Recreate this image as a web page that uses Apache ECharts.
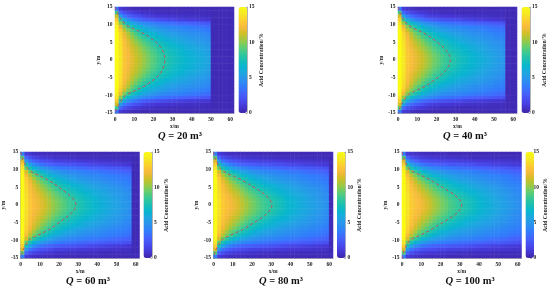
<!DOCTYPE html>
<html><head><meta charset="utf-8">
<style>html,body{margin:0;padding:0;background:#fff}#c{width:550px;height:289px}</style>
<script src="https://cdn.jsdelivr.net/npm/echarts@6/dist/echarts.min.js"></script>
</head><body><div id="c"></div>
<script>
const xCols=[1,3,5,7,9,11,13,15,17,19,21,23,25,27,29,31,33,35,37,39,41,43,45,47,49,51,53,55,57,59,61];
const yRows=[0.5,1.5,2.5,3.5,4.5,5.5,6.5,7.5,8.5,9.5,10.5,11.5,12.5,13.5,14.5];
const xTicks={min:0,max:62,interval:10};
const yTicks={min:-15,max:15,interval:5};
const colorTicks={min:0,max:15,interval:5};
const parula=['#3e26a8','#4537d5','#484df0','#4563fd','#327cfc','#2b91ef','#20a5e2','#08b5d0','#19bfb5','#37c897','#64cd6f','#9dc943','#d1bf27','#f8ba3d','#fccf30','#f5e924','#f9fb15'];
const q20=[
[15,14,12.7,12.2,11.7,11.2,10.8,10.3,9.8,9.3,8.9,8.5,8.1,7.8,7.5,7.2,7,6.8,6.6,6.4,6.3,6.1,6,5.8,5.6,.3,.3,.3,.3,.3,.3],
[15,14,12.7,12.2,11.6,11.1,10.7,10.2,9.7,9.2,8.8,8.4,8,7.7,7.4,7.1,6.9,6.7,6.5,6.3,6.2,6,5.9,5.7,5.5,.3,.3,.3,.3,.3,.3],
[15,13.9,12.6,12.1,11.5,11,10.5,10,9.5,9,8.6,8.2,7.8,7.5,7.2,7,6.8,6.6,6.4,6.2,6.1,5.9,5.8,5.6,5.4,.3,.3,.3,.3,.3,.3],
[15,13.9,12.6,11.9,11.3,10.8,10.3,9.7,9.2,8.7,8.3,7.9,7.6,7.3,7,6.8,6.6,6.4,6.2,6,5.9,5.7,5.6,5.4,5.2,.3,.3,.3,.3,.3,.3],
[15,13.8,12.5,11.7,11,10.4,9.9,9.3,8.8,8.3,7.9,7.5,7.2,6.9,6.7,6.5,6.3,6.1,5.9,5.7,5.6,5.4,5.3,5.2,5,.3,.3,.3,.3,.3,.3],
[15,13.7,12.4,11.5,10.7,10,9.4,8.8,8.3,7.8,7.4,7.1,6.8,6.5,6.3,6.1,5.9,5.7,5.6,5.4,5.3,5.1,5,4.9,4.7,.3,.3,.3,.3,.3,.3],
[15,13.5,12.1,11.1,10.2,9.5,8.8,8.2,7.7,7.2,6.9,6.6,6.3,6,5.8,5.6,5.5,5.3,5.2,5,4.9,4.8,4.7,4.6,4.4,.3,.3,.3,.3,.3,.3],
[15,13.3,11.7,10.6,9.6,8.8,8.1,7.5,7,6.6,6.3,6,5.7,5.5,5.3,5.2,5,4.9,4.8,4.7,4.6,4.5,4.4,4.3,4.1,.3,.3,.3,.3,.3,.3],
[14.8,12.8,11,9.8,8.8,8,7.3,6.7,6.2,5.9,5.6,5.4,5.2,5,4.8,4.7,4.6,4.5,4.4,4.3,4.2,4.1,4,3.9,3.7,.3,.3,.3,.3,.3,.3],
[14.5,11.8,9.7,8.4,7.5,6.8,6.2,5.7,5.3,5,4.8,4.6,4.4,4.3,4.2,4.1,4,3.9,3.8,3.7,3.6,3.5,3.4,3.3,3.2,.3,.3,.3,.3,.3,.3],
[13.8,10,7.9,6.7,5.9,5.3,4.8,4.4,4.1,3.9,3.7,3.5,3.4,3.3,3.2,3.1,3,2.9,2.8,2.7,2.6,2.5,2.4,2.3,2.2,.3,.3,.3,.3,.3,.3],
[12.8,8,5.8,4.6,3.9,3.4,3,2.6,2.4,2.2,2,1.9,1.8,1.7,1.6,1.5,1.4,1.3,1.2,1.1,1.1,1,1,.9,.9,.3,.3,.3,.3,.3,.3],
[11,5.2,3.6,2.8,2.3,2,1.8,1.4,1.2,1.1,1,.9,.9,.8,.8,.7,.7,.7,.6,.6,.6,.6,.5,.5,.5,.3,.3,.3,.3,.3,.3],
[8.5,2.8,1.9,1.5,1.2,1,.9,.7,.6,.6,.5,.5,.5,.5,.4,.4,.4,.4,.4,.4,.4,.4,.4,.4,.4,.3,.3,.3,.3,.3,.3],
[3.5,1,.7,.5,.4,.4,.4,.3,.3,.3,.3,.3,.3,.3,.3,.3,.3,.3,.3,.3,.3,.3,.3,.3,.3,.3,.3,.3,.3,.3,.3]];
const q40=[
[15,14.1,12.9,12.4,11.9,11.5,11.1,10.6,10.1,9.6,9.2,8.8,8.4,8.1,7.8,7.5,7.2,7,6.8,6.6,6.4,6.2,6,5.8,5.6,5.4,5.2,5,.3,.3,.3],
[15,14.1,12.9,12.4,11.8,11.4,11,10.5,10,9.5,9.1,8.7,8.3,8,7.7,7.4,7.1,6.9,6.7,6.5,6.3,6.1,5.9,5.7,5.5,5.3,5.1,4.9,.3,.3,.3],
[15,14,12.8,12.2,11.7,11.2,10.8,10.2,9.7,9.2,8.8,8.4,8,7.7,7.4,7.1,6.9,6.7,6.5,6.3,6.1,5.9,5.7,5.5,5.4,5.2,5,4.8,.3,.3,.3],
[15,14,12.7,12,11.4,10.9,10.4,9.9,9.4,8.9,8.5,8.1,7.7,7.4,7.1,6.9,6.7,6.5,6.3,6.1,5.9,5.7,5.6,5.4,5.2,5,4.9,4.7,.3,.3,.3],
[15,13.9,12.6,11.8,11.1,10.6,10.1,9.5,9,8.5,8.1,7.7,7.4,7.1,6.8,6.6,6.4,6.2,6,5.8,5.7,5.5,5.4,5.2,5,4.9,4.7,4.5,.3,.3,.3],
[15,13.8,12.5,11.6,10.8,10.2,9.6,9,8.5,8,7.6,7.3,7,6.7,6.5,6.2,6,5.9,5.7,5.5,5.4,5.2,5.1,4.9,4.8,4.6,4.5,4.3,.3,.3,.3],
[15,13.6,12.2,11.2,10.3,9.7,9,8.4,7.9,7.4,7,6.7,6.4,6.2,6,5.8,5.6,5.4,5.3,5.1,5,4.9,4.7,4.6,4.5,4.3,4.2,4.1,.3,.3,.3],
[15,13.4,11.8,10.7,9.7,9,8.3,7.7,7.2,6.8,6.4,6.1,5.9,5.6,5.4,5.3,5.1,5,4.9,4.7,4.6,4.5,4.4,4.3,4.2,4,3.9,3.8,.3,.3,.3],
[14.9,12.9,11.1,9.9,9,8.2,7.5,6.9,6.4,6,5.7,5.5,5.3,5.1,5,4.8,4.7,4.6,4.5,4.4,4.3,4.2,4.1,3.9,3.8,3.7,3.6,3.5,.3,.3,.3],
[14.6,12,9.9,8.6,7.7,7,6.4,5.9,5.5,5.2,4.9,4.7,4.5,4.4,4.3,4.2,4.1,4,3.9,3.8,3.7,3.6,3.5,3.4,3.3,3.2,3.1,3,.3,.3,.3],
[14,10.2,8.1,6.9,6.1,5.5,5,4.6,4.3,4,3.8,3.6,3.5,3.4,3.3,3.2,3.1,3,2.9,2.8,2.7,2.6,2.5,2.5,2.4,2.3,2.2,2.1,.3,.3,.3],
[13,8.2,6,4.8,4.1,3.6,3.2,2.8,2.6,2.4,2.2,2.1,2,1.9,1.8,1.7,1.6,1.5,1.4,1.3,1.2,1.2,1.1,1,1,.9,.9,.8,.3,.3,.3],
[11.2,5.5,3.8,3,2.5,2.2,1.9,1.5,1.3,1.2,1.1,1,1,.9,.9,.8,.8,.7,.7,.7,.6,.6,.6,.6,.5,.5,.5,.5,.3,.3,.3],
[8.8,3,2,1.6,1.3,1.1,1,.8,.7,.6,.6,.5,.5,.5,.5,.4,.4,.4,.4,.4,.4,.4,.4,.4,.4,.4,.4,.4,.3,.3,.3],
[3.8,1.1,.8,.6,.5,.4,.4,.4,.3,.3,.3,.3,.3,.3,.3,.3,.3,.3,.3,.3,.3,.3,.3,.3,.3,.3,.3,.3,.3,.3,.3]];
const q60=[
[15,13.7,12.8,12.4,12,11.6,11.2,10.7,10.2,9.8,9.4,9,8.6,8.3,8,7.7,7.4,7.1,6.9,6.6,6.4,6.2,6,5.8,5.6,5.4,5.2,5,4.8,.3,.3],
[15,13.7,12.8,12.3,11.9,11.5,11.1,10.6,10.1,9.7,9.3,8.9,8.5,8.2,7.9,7.6,7.3,7,6.8,6.5,6.3,6.1,5.9,5.7,5.5,5.3,5.1,4.9,4.7,.3,.3],
[15,13.6,12.7,12.2,11.7,11.3,10.8,10.3,9.8,9.4,9,8.6,8.2,7.9,7.6,7.3,7,6.8,6.6,6.3,6.1,5.9,5.8,5.6,5.4,5.2,5,4.8,4.6,.3,.3],
[15,13.6,12.6,12,11.5,11,10.5,10,9.5,9,8.6,8.2,7.8,7.5,7.2,7,6.7,6.5,6.3,6.1,5.9,5.7,5.6,5.4,5.2,5,4.9,4.7,4.5,.3,.3],
[15,13.5,12.5,11.8,11.1,10.6,10.1,9.5,9,8.5,8.1,7.7,7.4,7.1,6.8,6.6,6.3,6.1,6,5.8,5.6,5.5,5.3,5.1,5,4.8,4.7,4.5,4.3,.3,.3],
[15,13.4,12.3,11.5,10.8,10.1,9.6,9,8.5,8,7.6,7.2,6.9,6.6,6.4,6.2,6,5.8,5.6,5.4,5.3,5.1,5,4.8,4.7,4.5,4.4,4.2,4.1,.3,.3],
[15,13.2,12,11.1,10.3,9.6,9,8.4,7.9,7.4,7,6.7,6.4,6.1,5.9,5.7,5.5,5.3,5.2,5,4.9,4.8,4.6,4.5,4.4,4.2,4.1,4,3.8,.3,.3],
[15,13,11.5,10.5,9.5,8.8,8.2,7.6,7.1,6.7,6.3,6,5.8,5.5,5.3,5.1,5,4.8,4.7,4.6,4.5,4.3,4.2,4.1,4,3.9,3.8,3.7,3.5,.3,.3],
[14.9,12.3,10.7,9.6,8.7,7.9,7.3,6.7,6.2,5.9,5.6,5.3,5.1,4.9,4.8,4.6,4.5,4.4,4.3,4.2,4.1,4,3.9,3.8,3.7,3.6,3.5,3.4,3.2,.3,.3],
[14.6,11.3,9.4,8.2,7.3,6.6,6,5.6,5.2,4.9,4.7,4.5,4.3,4.2,4.1,4,3.9,3.8,3.7,3.6,3.5,3.4,3.3,3.2,3.1,3,2.9,2.8,2.7,.3,.3],
[14,9.4,7.5,6.4,5.7,5.1,4.7,4.3,4.1,3.8,3.6,3.5,3.4,3.3,3.2,3.1,3,2.9,2.8,2.8,2.7,2.6,2.5,2.4,2.4,2.3,2.2,2.1,2,.3,.3],
[13,7.4,5.5,4.5,3.9,3.4,3.1,2.8,2.6,2.5,2.4,2.3,2.2,2.1,2.1,2,1.9,1.8,1.7,1.6,1.5,1.5,1.4,1.3,1.2,1.1,1.1,1,.9,.3,.3],
[11.5,5,3.5,2.8,2.4,2.1,1.9,1.7,1.5,1.4,1.3,1.3,1.2,1.2,1.1,1.1,1,1,.9,.9,.8,.8,.8,.7,.7,.7,.6,.6,.6,.3,.3],
[9,2.8,1.9,1.5,1.3,1.1,1,.9,.8,.7,.7,.7,.6,.6,.6,.5,.5,.5,.5,.5,.4,.4,.4,.4,.4,.4,.4,.4,.4,.3,.3],
[4,1.1,.8,.6,.5,.5,.4,.4,.4,.4,.4,.3,.3,.3,.3,.3,.3,.3,.3,.3,.3,.3,.3,.3,.3,.3,.3,.3,.3,.3,.3]];
const q80=[
[15,13.8,12.9,12.5,12.2,11.8,11.4,10.9,10.4,10,9.6,9.2,8.8,8.5,8.2,7.9,7.6,7.3,7,6.7,6.5,6.3,6.1,5.9,5.7,5.5,5.3,5.1,4.9,4.7,.3],
[15,13.8,12.9,12.4,12.1,11.7,11.3,10.8,10.3,9.9,9.5,9.1,8.7,8.4,8.1,7.8,7.5,7.2,6.9,6.6,6.4,6.2,6,5.8,5.6,5.4,5.2,5,4.8,4.6,.3],
[15,13.7,12.8,12.3,11.9,11.4,11,10.5,10,9.6,9.2,8.8,8.4,8.1,7.8,7.5,7.2,6.9,6.7,6.4,6.2,6,5.9,5.7,5.5,5.3,5.1,4.9,4.7,4.5,.3],
[15,13.6,12.7,12.1,11.6,11.1,10.7,10.1,9.6,9.2,8.8,8.4,8,7.7,7.4,7.1,6.8,6.6,6.4,6.2,6,5.8,5.7,5.5,5.3,5.1,5,4.8,4.6,4.4,.3],
[15,13.5,12.5,11.8,11.2,10.7,10.2,9.7,9.2,8.7,8.3,7.9,7.5,7.2,6.9,6.7,6.4,6.2,6.1,5.9,5.7,5.6,5.4,5.2,5.1,4.9,4.8,4.6,4.4,4.2,.3],
[15,13.4,12.3,11.5,10.9,10.2,9.7,9.1,8.6,8.1,7.7,7.3,7,6.7,6.5,6.3,6.1,5.9,5.7,5.5,5.4,5.2,5.1,4.9,4.8,4.6,4.5,4.3,4.2,4,.3],
[15,13.2,12,11.1,10.3,9.7,9.1,8.5,8,7.5,7.1,6.8,6.5,6.2,6,5.8,5.6,5.4,5.3,5.1,5,4.9,4.7,4.6,4.5,4.3,4.2,4.1,3.9,3.8,.3],
[15,13,11.5,10.5,9.5,8.9,8.2,7.7,7.2,6.8,6.4,6.1,5.9,5.6,5.4,5.2,5.1,4.9,4.8,4.7,4.6,4.4,4.3,4.2,4.1,4,3.9,3.8,3.6,3.5,.3],
[14.9,12.3,10.7,9.6,8.7,8,7.4,6.8,6.3,6,5.7,5.4,5.2,5,4.9,4.7,4.6,4.5,4.4,4.3,4.2,4.1,4,3.9,3.8,3.7,3.6,3.5,3.3,3.2,.3],
[14.6,11.3,9.4,8.2,7.3,6.6,6.1,5.6,5.3,5,4.8,4.6,4.4,4.3,4.2,4.1,4,3.9,3.8,3.7,3.6,3.5,3.4,3.3,3.2,3.1,3,2.9,2.8,2.6,.3],
[14,9.4,7.5,6.4,5.7,5.1,4.7,4.3,4.1,3.9,3.7,3.6,3.5,3.4,3.3,3.2,3.1,3,2.9,2.9,2.8,2.7,2.6,2.5,2.5,2.4,2.3,2.2,2.1,2,.3],
[13,7.4,5.5,4.5,3.9,3.4,3.1,2.9,2.7,2.6,2.5,2.4,2.3,2.2,2.2,2.1,2,1.9,1.8,1.7,1.6,1.6,1.5,1.4,1.3,1.3,1.2,1.1,1,1,.3],
[11.5,5,3.5,2.8,2.4,2.1,1.9,1.7,1.6,1.5,1.4,1.4,1.3,1.3,1.2,1.2,1.1,1.1,1,1,.9,.9,.9,.8,.8,.8,.7,.7,.7,.6,.3],
[9,2.8,1.9,1.5,1.3,1.1,1,.9,.8,.8,.7,.7,.7,.6,.6,.6,.5,.5,.5,.5,.5,.5,.4,.4,.4,.4,.4,.4,.4,.4,.3],
[4,1.1,.8,.6,.5,.5,.4,.4,.4,.4,.4,.4,.3,.3,.3,.3,.3,.3,.3,.3,.3,.3,.3,.3,.3,.3,.3,.3,.3,.3,.3]];
const q100=[
[15,13.9,13,12.6,12.3,11.9,11.5,11,10.5,10.1,9.7,9.3,8.9,8.6,8.3,8,7.7,7.4,7.1,6.9,6.6,6.4,6.2,6,5.8,5.6,5.4,5.2,5,4.8,4.6],
[15,13.9,13,12.5,12.2,11.8,11.4,10.9,10.4,10,9.6,9.2,8.8,8.5,8.2,7.9,7.6,7.3,7,6.8,6.5,6.3,6.1,5.9,5.7,5.5,5.3,5.1,4.9,4.7,4.5],
[15,13.8,12.9,12.4,12,11.5,11.1,10.6,10.1,9.7,9.3,8.9,8.5,8.2,7.9,7.6,7.3,7,6.8,6.5,6.3,6.1,6,5.8,5.6,5.4,5.2,5,4.8,4.6,4.4],
[15,13.7,12.8,12.2,11.7,11.2,10.8,10.2,9.7,9.3,8.9,8.5,8.1,7.8,7.5,7.2,6.9,6.7,6.5,6.3,6.1,5.9,5.8,5.6,5.4,5.2,5.1,4.9,4.7,4.5,4.3],
[15,13.6,12.6,11.9,11.3,10.8,10.3,9.8,9.3,8.8,8.4,8,7.6,7.3,7,6.8,6.5,6.3,6.2,6,5.8,5.7,5.5,5.3,5.2,5,4.9,4.7,4.5,4.3,4.2],
[15,13.5,12.4,11.6,11,10.3,9.8,9.2,8.7,8.2,7.8,7.4,7.1,6.8,6.6,6.4,6.2,6,5.8,5.6,5.5,5.3,5.2,5,4.9,4.7,4.6,4.4,4.3,4.1,4],
[15,13.3,12.1,11.2,10.4,9.8,9.2,8.6,8.1,7.6,7.2,6.9,6.6,6.3,6.1,5.9,5.7,5.5,5.4,5.2,5.1,5,4.8,4.7,4.6,4.4,4.3,4.2,4,3.9,3.8],
[15,13.1,11.6,10.6,9.6,9,8.3,7.8,7.3,6.9,6.5,6.2,6,5.7,5.5,5.3,5.2,5,4.9,4.8,4.7,4.5,4.4,4.3,4.2,4.1,4,3.9,3.7,3.6,3.5],
[14.9,12.4,10.8,9.7,8.8,8.1,7.5,6.9,6.4,6.1,5.8,5.5,5.3,5.1,5,4.8,4.7,4.6,4.5,4.4,4.3,4.2,4.1,4,3.9,3.8,3.7,3.6,3.4,3.3,3.2],
[14.6,11.4,9.5,8.3,7.4,6.7,6.2,5.7,5.4,5.1,4.9,4.7,4.5,4.4,4.3,4.2,4.1,4,3.9,3.8,3.7,3.6,3.5,3.4,3.3,3.2,3.1,3,2.9,2.7,2.6],
[14,9.5,7.6,6.5,5.8,5.2,4.8,4.4,4.2,4,3.8,3.7,3.6,3.5,3.4,3.3,3.2,3.1,3,3,2.9,2.8,2.7,2.6,2.6,2.5,2.4,2.3,2.2,2.1,2],
[13,7.5,5.6,4.6,4,3.5,3.2,3,2.8,2.7,2.6,2.5,2.4,2.3,2.3,2.2,2.1,2,1.9,1.8,1.7,1.7,1.6,1.5,1.4,1.4,1.3,1.2,1.1,1.1,1],
[11.5,5,3.5,2.8,2.4,2.1,1.9,1.8,1.7,1.6,1.5,1.5,1.4,1.4,1.3,1.3,1.2,1.2,1.1,1.1,1,1,1,.9,.9,.9,.8,.8,.8,.7,.7],
[9,2.8,1.9,1.5,1.3,1.1,1,.9,.9,.8,.8,.7,.7,.7,.6,.6,.6,.5,.5,.5,.5,.5,.5,.4,.4,.4,.4,.4,.4,.4,.4],
[4,1.1,.8,.6,.5,.5,.4,.4,.4,.4,.4,.4,.3,.3,.3,.3,.3,.3,.3,.3,.3,.3,.3,.3,.3,.3,.3,.3,.3,.3,.3]];
const curveY=[15,14,13,12,11,10,9,8,7,6,5,4,3,2,1,0];
const curve20=[0,.7,1.5,2.6,4,5.5,9,13,16.5,19,21.5,23.2,24.5,25.3,25.8,26];
const curve40=[0,.7,1.3,2.4,3.6,5,8,12,15.5,18,20.6,22.8,24.8,26,27,27.2];
const curve60=[0,.5,1,1.9,3,4,7,11,14.5,17.5,20,22.5,25,27,28.3,28.8];
const curve80=[0,.5,1,1.8,2.8,4,7,11,15,18,21,24,26.5,28.5,29.8,30.3];
const curve100=[0,.5,1,1.8,2.8,4,7.5,11.5,15,18,21,24,27,29,30.5,31];
const titles=['20','40','60','80','100'];
const tables=[q20,q40,q60,q80,q100];
const curves=[curve20,curve40,curve60,curve80,curve100];
const boxes=[
 {l:115,t:7,w:119,h:106,cb:238.5,tx:180,ty:136.5},
 {l:398,t:7,w:119,h:106,cb:521.5,tx:465,ty:136.5},
 {l:20,t:152,w:119.5,h:106,cb:143.5,tx:88,ty:281.5},
 {l:213.5,t:152,w:119.5,h:106,cb:337,tx:281,ty:281.5},
 {l:402,t:152,w:119.5,h:106,cb:525.5,tx:470,ty:281.5}];
const font='Liberation Serif';
const lab={fontFamily:font,fontWeight:'bold',fontSize:5.5,color:'#222'};
const line={lineStyle:{color:'#666',width:.5}};
const allY=[...yRows].reverse().map(v=>-v).concat(yRows);
const opt={animation:false,backgroundColor:'#fff',title:[],grid:[],xAxis:[],yAxis:[],series:[],visualMap:[]};
boxes.forEach((b,i)=>{
  const g=opt.grid.length;
  opt.grid.push({left:b.l,top:b.t,width:b.w,height:b.h,containLabel:false});
  opt.grid.push({left:b.cb,top:b.t,width:8.5,height:b.h,containLabel:false});
  const xc=opt.xAxis.length, yc=opt.yAxis.length;
  opt.xAxis.push({type:'category',gridIndex:g,data:xCols,show:false,position:'top'});
  opt.yAxis.push({type:'category',gridIndex:g,data:allY,show:false,position:'right'});
  opt.xAxis.push({type:'value',gridIndex:g,position:'bottom',...xTicks,name:'x/m',nameLocation:'middle',nameGap:10,nameTextStyle:lab,
    axisLine:{show:true,onZero:false,...line},axisTick:{show:true,inside:true,length:1.5,...line},axisLabel:{...lab,margin:3.5,showMinLabel:true,showMaxLabel:false},splitLine:{show:false}});
  opt.yAxis.push({type:'value',gridIndex:g,position:'left',...yTicks,name:'y/m',nameLocation:'middle',nameGap:11,nameRotate:90,nameTextStyle:lab,
    axisLine:{show:true,onZero:false,...line},axisTick:{show:true,inside:true,length:1.5,...line},axisLabel:{...lab,margin:2.5},splitLine:{show:false}});
  opt.xAxis.push({type:'value',gridIndex:g+1,min:0,max:1,show:false});
  opt.yAxis.push({type:'value',gridIndex:g+1,...colorTicks,position:'right',name:'Acid Concentration/%',nameLocation:'middle',nameGap:11,nameRotate:90,nameTextStyle:lab,
    axisLine:{show:true,onZero:false,...line},axisTick:{show:true,inside:true,length:1.5,...line},axisLabel:{...lab,margin:2},splitLine:{show:false}});
  const rows=[...tables[i]].reverse().concat(tables[i]);
  const data=[];
  rows.forEach((r,yi)=>r.forEach((v,xi)=>data.push([xi,yi,v])));
  const si=opt.series.length;
  opt.series.push({type:'heatmap',xAxisIndex:xc,yAxisIndex:yc,data,progressive:0,silent:true,itemStyle:{borderWidth:0},emphasis:{disabled:true}});
  const pts=curves[i].map((x,k)=>[x,curveY[k]]);
  const mirrored=pts.concat(pts.slice(0,-1).reverse().map(p=>[p[0],-p[1]]));
  opt.series.push({type:'line',xAxisIndex:xc+1,yAxisIndex:yc+1,data:mirrored,smooth:.3,showSymbol:false,silent:true,z:5,lineStyle:{color:'#cf4650',width:.9,type:[3,2.5]}});
  opt.visualMap.push({type:'continuous',seriesIndex:si,min:0,max:15,left:b.cb,top:b.t,itemWidth:8.5,itemHeight:b.h,padding:0,text:null,showLabel:false,calculable:false,hoverLink:false,inRange:{color:parula},textStyle:{fontSize:1,color:'transparent'}});
  opt.title.push({text:'{i|Q} = '+titles[i]+' m³',left:b.tx,top:b.ty,textAlign:'center',textVerticalAlign:'middle',padding:0,
    textStyle:{fontFamily:font,fontWeight:'bold',fontSize:10.5,color:'#111',rich:{i:{fontFamily:font,fontWeight:'bold',fontStyle:'italic',fontSize:10.5,color:'#111'}}}});
});
const chart=echarts.init(document.getElementById('c'),null,{renderer:'canvas'});
chart.setOption(opt);
</script></body></html>
